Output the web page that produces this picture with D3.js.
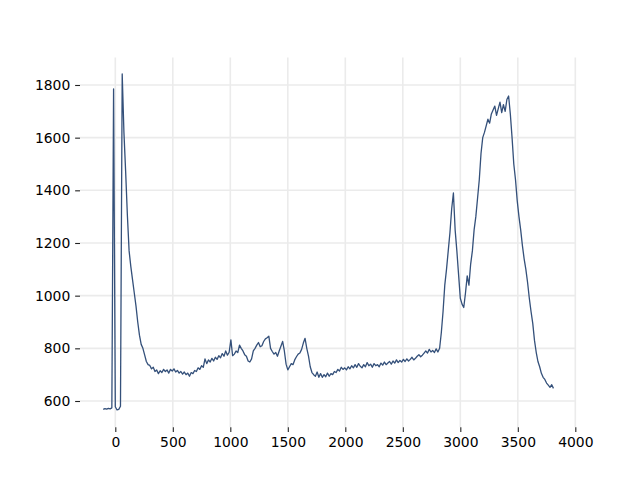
<!DOCTYPE html>
<html>
<head>
<meta charset="utf-8">
<script src="https://cdn.jsdelivr.net/npm/d3@7"></script>
<style>
  html, body { margin: 0; padding: 0; background: #ffffff; }
  svg { display: block; }
  .tick text { font-family: "DejaVu Sans", sans-serif; font-size: 13.9px; fill: #000; }
</style>
</head>
<body>
<svg id="chart" width="640" height="480"></svg>
<script>
// ---- data ----
const xValues = [
  -105, -90, -75, -60, -45, -30, -15, 0, 15, 30,
  45, 60, 75, 90, 105, 120, 135, 150, 165, 180,
  195, 210, 225, 240, 255, 270, 285, 300, 315, 330,
  345, 360, 375, 390, 405, 420, 435, 450, 465, 480,
  495, 510, 525, 540, 555, 570, 585, 600, 615, 630,
  645, 660, 675, 690, 705, 720, 735, 750, 765, 780,
  795, 810, 825, 840, 855, 870, 885, 900, 915, 930,
  945, 960, 975, 990, 1005, 1020, 1035, 1050, 1065, 1080,
  1095, 1110, 1125, 1140, 1155, 1170, 1185, 1200, 1215, 1230,
  1245, 1260, 1275, 1290, 1305, 1320, 1335, 1350, 1365, 1380,
  1395, 1410, 1425, 1440, 1455, 1470, 1485, 1500, 1515, 1530,
  1545, 1560, 1575, 1590, 1605, 1620, 1635, 1650, 1665, 1680,
  1695, 1710, 1725, 1740, 1755, 1770, 1785, 1800, 1815, 1830,
  1845, 1860, 1875, 1890, 1905, 1920, 1935, 1950, 1965, 1980,
  1995, 2010, 2025, 2040, 2055, 2070, 2085, 2100, 2115, 2130,
  2145, 2160, 2175, 2190, 2205, 2220, 2235, 2250, 2265, 2280,
  2295, 2310, 2325, 2340, 2355, 2370, 2385, 2400, 2415, 2430,
  2445, 2460, 2475, 2490, 2505, 2520, 2535, 2550, 2565, 2580,
  2595, 2610, 2625, 2640, 2655, 2670, 2685, 2700, 2715, 2730,
  2745, 2760, 2775, 2790, 2805, 2820, 2835, 2850, 2865, 2880,
  2895, 2910, 2925, 2940, 2955, 2970, 2985, 3000, 3015, 3030,
  3045, 3060, 3075, 3090, 3105, 3120, 3135, 3150, 3165, 3180,
  3195, 3210, 3225, 3240, 3255, 3270, 3285, 3300, 3315, 3330,
  3345, 3360, 3375, 3390, 3405, 3420, 3435, 3450, 3465, 3480,
  3495, 3510, 3525, 3540, 3555, 3570, 3585, 3600, 3615, 3630,
  3645, 3660, 3675, 3690, 3705, 3720, 3735, 3750, 3765, 3780,
  3795, 3810
];
const yValues = [
  568, 571, 569, 572, 570, 574, 1785, 578, 566, 568,
  580, 1842, 1620, 1470, 1305, 1170, 1110, 1060, 1010, 960,
  900, 850, 815, 800, 775, 750, 738, 735, 722, 728,
  712, 718, 704, 715, 708, 720, 712, 718, 706, 720,
  714, 722, 710, 716, 706, 712, 702, 710, 700, 706,
  694, 708, 704, 716, 712, 726, 720, 734, 728, 760,
  742, 756, 748, 762, 752, 766, 758, 772, 764, 780,
  770, 790, 774, 785, 832, 772, 778, 790, 784, 812,
  800, 790, 776, 770, 752, 748, 760, 790, 800, 812,
  822, 806, 810, 826, 836, 840, 846, 800, 788, 778,
  784, 770, 790, 808, 826, 790, 740, 718, 730, 742,
  738, 756, 768, 778, 782, 796, 820, 838, 800, 770,
  730, 708, 700, 694, 710, 690, 704, 690, 700, 692,
  706, 694, 704, 700, 712, 708, 720, 714, 728, 720,
  726, 718, 730, 722, 734, 726, 738, 728, 742, 732,
  726, 738, 730, 746, 734, 740, 728, 742, 734, 738,
  730, 744, 736, 748, 738, 744, 750, 740, 752, 744,
  756, 746, 754, 748, 758, 750, 760, 752, 758, 766,
  756, 762, 770, 776, 768, 774, 782, 790, 782, 796,
  786, 792, 784, 798, 786, 800, 860, 940, 1040, 1100,
  1170, 1240, 1330, 1390, 1250, 1170, 1080, 990, 968, 955,
  1010, 1075, 1040, 1120, 1170, 1250, 1300, 1370, 1440, 1540,
  1600, 1620, 1645, 1670, 1655, 1690, 1705, 1720, 1685, 1710,
  1735, 1695, 1725, 1700, 1745, 1758, 1690, 1600, 1500, 1440,
  1360, 1300, 1250, 1190, 1140, 1100, 1050, 990, 940, 895,
  830, 785, 750, 730, 705, 690, 682, 668, 660, 652,
  662, 648
];
const xTicks = [0, 500, 1000, 1500, 2000, 2500, 3000, 3500, 4000];
const yTicks = [600, 800, 1000, 1200, 1400, 1600, 1800];

// ---- layout ----
const plotLeft = 80, plotRight = 576, plotTop = 57.6, plotBottom = 427.2;
const svg = d3.select("#chart");

const x = d3.scaleLinear().domain([-307, 4006]).range([plotLeft, plotRight]);
const y = d3.scaleLinear().domain([500.5, 1904]).range([plotBottom, plotTop]);

// grid
const grid = svg.append("g");
grid.selectAll("line.vx").data(xTicks).join("line")
  .attr("class", "vx")
  .attr("x1", d => x(d)).attr("x2", d => x(d))
  .attr("y1", plotTop).attr("y2", plotBottom)
  .attr("stroke", "#ebebeb").attr("stroke-width", 1.6);
grid.selectAll("line.hy").data(yTicks).join("line")
  .attr("class", "hy")
  .attr("x1", plotLeft).attr("x2", plotRight)
  .attr("y1", d => y(d)).attr("y2", d => y(d))
  .attr("stroke", "#ebebeb").attr("stroke-width", 1.6);

// axes
const tickLen = 4.86, tickPad = 4.86;
const xAxis = svg.append("g").attr("transform", `translate(0,${plotBottom})`)
  .call(d3.axisBottom(x).tickValues(xTicks).tickSize(tickLen).tickPadding(tickPad).tickFormat(d3.format("d")));
const yAxis = svg.append("g").attr("transform", `translate(${plotLeft},0)`)
  .call(d3.axisLeft(y).tickValues(yTicks).tickSize(tickLen).tickPadding(tickPad).tickFormat(d3.format("d")));
[xAxis, yAxis].forEach(g => {
  g.select(".domain").remove();
  g.selectAll(".tick line").attr("stroke", "#222").attr("stroke-width", 1.1);
  g.selectAll(".tick text").attr("fill", "#000");
});

// line
const data = xValues.map((v, i) => [v, yValues[i]]);
svg.append("path")
  .datum(data)
  .attr("fill", "none")
  .attr("stroke", "#34507a")
  .attr("stroke-width", 1.3)
  .attr("stroke-linejoin", "round")
  .attr("d", d3.line().x(d => x(d[0])).y(d => y(d[1])));
</script>
</body>
</html>
